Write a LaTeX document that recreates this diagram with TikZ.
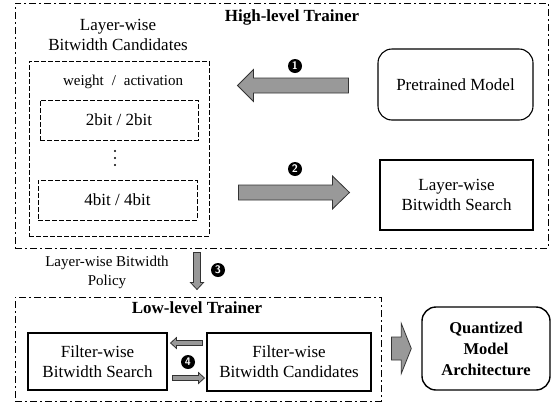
\documentclass[tikz,border=0pt]{standalone}
\usepackage{fontspec}
\setmainfont{Liberation Serif}
\usetikzlibrary{calc}

\tikzset{
  txt/.style={font=\fontsize{17}{20}\selectfont, align=center},
  smalltxt/.style={font=\fontsize{15}{19}\selectfont, align=center},
  ttl/.style={font=\bfseries\fontsize{17}{20}\selectfont, align=center},
  trainer/.style={draw, line width=1pt, dash pattern=on 7pt off 3pt on 2pt off 3pt, inner sep=0pt},
  cand/.style={draw, line width=1pt, dash pattern=on 5pt off 2pt, inner sep=0pt},
  solidbox/.style={draw, line width=1.1pt, inner sep=0pt, txt},
  roundbox/.style={solidbox, rounded corners=14pt},
  num/.style={circle, fill=black, text=white, inner sep=0pt, minimum size=14pt,
    font=\sffamily\bfseries\fontsize{11}{11}\selectfont},
  blockarrow/.style={draw=black!80, fill=black!40, line width=0.8pt, line join=miter},
}

% #2 tail, #3 tip, #4 half shaft, #5 half head, #6 head length (all pt)
\newcommand{\blockarrow}[6][]{%
  \filldraw[blockarrow,#1] let \p1=(#2), \p2=(#3),
    \n1={veclen(\x2-\x1,\y2-\y1)}, \n2={atan2(\y2-\y1,\x2-\x1)} in
    {[shift={(\p1)}, rotate=\n2]
    (0pt,-#4pt) -- (\n1-#6pt,-#4pt) -- (\n1-#6pt,-#5pt) -- (\n1,0pt)
    -- (\n1-#6pt,#5pt) -- (\n1-#6pt,#4pt) -- (0pt,#4pt) -- cycle};
}

\begin{document}
\begin{tikzpicture}[x=1pt, y=-1pt]
\useasboundingbox (0,0) rectangle (554,405);

% high-level trainer
\node[trainer, minimum width=533pt, minimum height=245pt] (high) at (281.5,125.5) {};
\node[ttl] (hightitle) at (292,17) {High-level Trainer};
\node[txt] (candtitle) at (118,35) {Layer-wise\\Bitwidth Candidates};
\node[cand, minimum width=180pt, minimum height=175pt] (cands) at (119,148.5) {};
\node[smalltxt] (wa) at (123,82) {weight \;/\; activation};
\node[cand, txt, minimum width=158pt, minimum height=40pt] (twobit) at (119,120) {2bit / 2bit};
\foreach \y in {151,158,165}
  \fill (115,\y) circle (1.1pt);
\node[cand, txt, minimum width=159pt, minimum height=40pt] (fourbit) at (117.5,200) {4bit / 4bit};
\node[roundbox, minimum width=155pt, minimum height=71pt] (pretrained) at (455.5,84.5) {Pretrained Model};
\node[solidbox, minimum width=153pt, minimum height=70pt] (lwsearch) at (456.5,195) {Layer-wise\\Bitwidth Search};

\coordinate (a1tail) at ($(pretrained.west)+(-29,1)$);
\coordinate (a1tip) at ($(cands.east |- a1tail)+(28,0)$);
\blockarrow{a1tail}{a1tip}{7.5}{16}{16}
\node[num] (n1) at (295,66) {1};

\coordinate (a2tip) at ($(lwsearch.west)+(-30,-2.5)$);
\coordinate (a2tail) at ($(cands.east |- a2tip)+(29,0)$);
\blockarrow{a2tail}{a2tip}{7.5}{16.5}{17}
\node[num] (n2) at (295,169) {2};

% policy handed down
\node[smalltxt] (policy) at (107,272.5) {Layer-wise Bitwidth\\Policy};
\node[num] (n3) at (218,270) {3};

% low-level trainer
\node[trainer, minimum width=366pt, minimum height=104pt] (low) at (198,349) {};
\node[ttl] (lowtitle) at (197,308) {Low-level Trainer};
\node[solidbox, minimum width=139pt, minimum height=57pt] (fwsearch) at (97.5,361.5) {Filter-wise\\Bitwidth Search};
\node[solidbox, minimum width=164pt, minimum height=58pt] (fwcands) at (289,362) {Filter-wise\\Bitwidth Candidates};

\coordinate (a3tail) at ($(high.south)+(-84.5,4)$);
\coordinate (a3tip) at ($(low.north -| a3tail)+(0,-7)$);
\blockarrow{a3tail}{a3tip}{3.5}{6.5}{7}

\coordinate (a4tail) at ($(fwcands.west)+(-4,-19)$);
\coordinate (a4tip) at ($(fwsearch.east |- a4tail)+(3,0)$);
\blockarrow{a4tail}{a4tip}{2.5}{5.5}{6}
\coordinate (a5tail) at ($(fwsearch.east)+(5,16.5)$);
\coordinate (a5tip) at ($(fwcands.west |- a5tail)+(-2,0)$);
\blockarrow{a5tail}{a5tip}{2.5}{5.5}{6}
\node[num] (n4) at (188,362) {4};

% result
\node[roundbox, font=\bfseries\fontsize{16.5}{21}\selectfont, line width=1.4pt,
  minimum width=128pt, minimum height=83pt] (qmodel) at (486,348.5) {Quantized\\Model\\Architecture};
\coordinate (a6tail) at ($(low.east |- qmodel)+(10,0)$);
\coordinate (a6tip) at ($(qmodel.west)+(-10,0)$);
\blockarrow{a6tail}{a6tip}{11.5}{25}{10}
\end{tikzpicture}
\end{document}
